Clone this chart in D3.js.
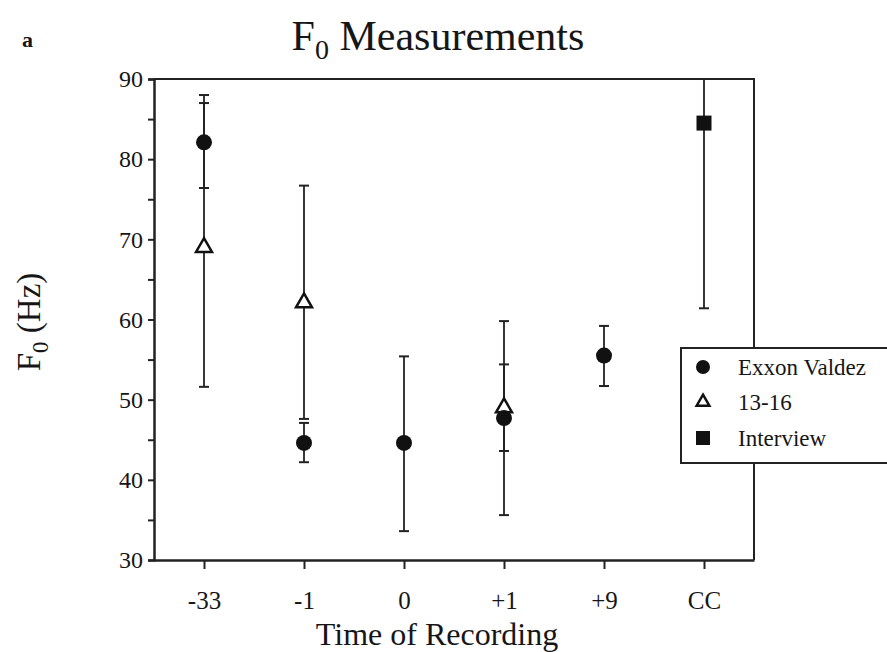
<!DOCTYPE html>
<html>
<head>
<meta charset="utf-8">
<script src="https://cdn.jsdelivr.net/npm/d3@7"></script>
<style>
  html, body { margin: 0; padding: 0; background: #fff; }
</style>
</head>
<body>
<div id="chart"></div>
<script>
// recording times on the x axis
const categories = ['-33', '-1', '0', '+1', '+9', 'CC'];

// Exxon Valdez: mean F0 and error bar ends (Hz)
const exxonMean = [82.1, 44.6, 44.6, 47.7, 55.5, null];
const exxonLow  = [76.4, 42.2, 33.6, 35.6, 51.7, null];
const exxonHigh = [88.0, 47.1, 55.4, 59.8, 59.2, null];

// 13-16
const teenMean = [69.0, 62.1, null, 49.0, null, null];
const teenLow  = [51.6, 47.6, null, 43.6, null, null];
const teenHigh = [87.0, 76.7, null, 54.4, null, null];

// Interview
const interviewMean = [null, null, null, null, null, 84.5];
const interviewLow  = [null, null, null, null, null, 61.4];
const interviewHigh = [null, null, null, null, null, 107.6];

const yTicks = [30, 35, 40, 45, 50, 55, 60, 65, 70, 75, 80, 85, 90];
const legendLabels = ['Exxon Valdez', '13-16', 'Interview'];

const SERIF = '"Liberation Serif", "Times New Roman", Times, serif';
const INK = '#161616';

const W = 887, H = 652;
const plotL = 154, plotR = 754, plotT = 79, plotB = 560;

const svg = d3.select('#chart').append('svg')
    .attr('width', W)
    .attr('height', H)
    .attr('font-family', SERIF);

svg.append('rect').attr('width', W).attr('height', H).attr('fill', '#fff');

const x = d3.scalePoint()
    .domain(categories)
    .range([plotL, plotR])
    .padding(0.5);

const y = d3.scaleLinear()
    .domain([30, 90])
    .range([plotB, plotT]);

// frame: top and right edges
svg.append('path')
    .attr('d', `M${plotL},${plotT}H${plotR}V${plotB}`)
    .attr('fill', 'none')
    .attr('stroke', '#222')
    .attr('stroke-width', 2);

// y axis
const yAxis = svg.append('g')
    .attr('transform', `translate(${plotL},0)`)
    .call(d3.axisLeft(y)
        .tickValues(yTicks)
        .tickFormat(d => d % 10 === 0 ? d : '')
        .tickSize(6)
        .tickPadding(5));
yAxis.attr('font-family', SERIF).attr('font-size', 24);
yAxis.select('.domain').attr('stroke', '#222').attr('stroke-width', 2.5);
yAxis.selectAll('.tick line').attr('stroke', '#222').attr('stroke-width', 2);
yAxis.selectAll('.tick text').attr('fill', INK);

// x axis
const xAxis = svg.append('g')
    .attr('transform', `translate(0,${plotB})`)
    .call(d3.axisBottom(x).tickSize(9).tickSizeOuter(0).tickPadding(22));
xAxis.attr('font-family', SERIF).attr('font-size', 25);
xAxis.select('.domain').attr('stroke', '#222').attr('stroke-width', 2.5);
xAxis.selectAll('.tick line').attr('stroke', '#222').attr('stroke-width', 2);
xAxis.selectAll('.tick text').attr('fill', INK);

// clip marks to the plot frame
svg.append('clipPath').attr('id', 'plot-clip')
    .append('rect')
    .attr('x', plotL).attr('y', plotT)
    .attr('width', plotR - plotL).attr('height', plotB - plotT);

const plot = svg.append('g').attr('clip-path', 'url(#plot-clip)');

function rows(mean, low, high) {
    return categories.map((c, i) => ({ cat: c, mean: mean[i], low: low[i], high: high[i] }))
        .filter(d => d.mean !== null);
}

const series = [
    { name: 'exxon', rows: rows(exxonMean, exxonLow, exxonHigh) },
    { name: 'teen', rows: rows(teenMean, teenLow, teenHigh) },
    { name: 'interview', rows: rows(interviewMean, interviewLow, interviewHigh) }
];

const capW = 5;

// error bars
series.forEach(s => {
    const g = plot.append('g').attr('class', 'err-' + s.name);
    g.selectAll('line.stem')
        .data(s.rows)
        .join('line')
        .attr('class', 'stem')
        .attr('x1', d => x(d.cat)).attr('x2', d => x(d.cat))
        .attr('y1', d => y(d.low)).attr('y2', d => y(d.high))
        .attr('stroke', '#222').attr('stroke-width', 1.8);
    ['low', 'high'].forEach(k => {
        g.selectAll('line.cap-' + k)
            .data(s.rows)
            .join('line')
            .attr('class', 'cap-' + k)
            .attr('x1', d => x(d.cat) - capW).attr('x2', d => x(d.cat) + capW)
            .attr('y1', d => y(d[k])).attr('y2', d => y(d[k]))
            .attr('stroke', '#222').attr('stroke-width', 2);
    });
});

const triangle = d3.symbol().type(d3.symbolTriangle).size(110);

// markers
plot.append('g').selectAll('path')
    .data(series[1].rows)
    .join('path')
    .attr('d', triangle)
    .attr('transform', d => `translate(${x(d.cat)},${y(d.mean)})`)
    .attr('fill', '#fff').attr('stroke', '#111').attr('stroke-width', 2.5);

plot.append('g').selectAll('circle')
    .data(series[0].rows)
    .join('circle')
    .attr('cx', d => x(d.cat))
    .attr('cy', d => y(d.mean))
    .attr('r', 8)
    .attr('fill', '#111');

plot.append('g').selectAll('rect')
    .data(series[2].rows)
    .join('rect')
    .attr('x', d => x(d.cat) - 7.5)
    .attr('y', d => y(d.mean) - 7.5)
    .attr('width', 15).attr('height', 15)
    .attr('fill', '#111');

// titles
const title = svg.append('text')
    .attr('x', 438).attr('y', 50)
    .attr('text-anchor', 'middle')
    .attr('fill', INK)
    .attr('font-size', 42);
title.append('tspan').text('F');
title.append('tspan').attr('dy', 9).attr('font-size', 28).text('0');
title.append('tspan').attr('dy', -9).text(' Measurements');

svg.append('text')
    .attr('x', 22).attr('y', 47)
    .attr('fill', INK)
    .attr('font-size', 22).attr('font-weight', 'bold')
    .text('a');

const yTitle = svg.append('text')
    .attr('transform', 'translate(40,322) rotate(-90)')
    .attr('text-anchor', 'middle')
    .attr('fill', INK)
    .attr('font-size', 33);
yTitle.append('tspan').text('F');
yTitle.append('tspan').attr('dy', 8).attr('font-size', 23).text('0');
yTitle.append('tspan').attr('dy', -8).text(' (Hz)');

svg.append('text')
    .attr('x', 437).attr('y', 645)
    .attr('text-anchor', 'middle')
    .attr('fill', INK)
    .attr('font-size', 32)
    .text('Time of Recording');

// legend
const legend = svg.append('g').attr('transform', 'translate(681,348)');
legend.append('rect')
    .attr('width', 230).attr('height', 115)
    .attr('fill', '#fff').attr('stroke', '#222').attr('stroke-width', 2);

const rowY = [19, 54, 90];
legend.append('circle').attr('cx', 22).attr('cy', rowY[0]).attr('r', 7).attr('fill', '#111');
legend.append('path')
    .attr('d', d3.symbol().type(d3.symbolTriangle).size(70))
    .attr('transform', `translate(22,${rowY[1]})`)
    .attr('fill', '#fff').attr('stroke', '#111').attr('stroke-width', 2.5);
legend.append('rect').attr('x', 15).attr('y', rowY[2] - 7).attr('width', 14).attr('height', 14).attr('fill', '#111');

legend.selectAll('text.lbl')
    .data(legendLabels)
    .join('text')
    .attr('class', 'lbl')
    .attr('x', 57)
    .attr('y', (d, i) => rowY[i] + 8)
    .attr('fill', INK)
    .attr('font-size', 23)
    .text(d => d);
</script>
</body>
</html>
